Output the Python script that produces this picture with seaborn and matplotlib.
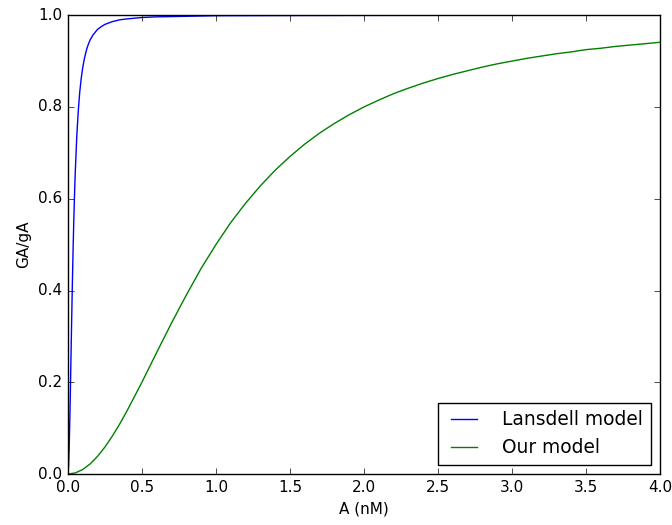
import matplotlib
matplotlib.use("Agg")
import matplotlib.pyplot as plt
import seaborn as sns
import pandas as pd

lansdell_x = [0.0, 0.005, 0.01, 0.015, 0.02, 0.025, 0.03, 0.035, 0.04, 0.045, 0.05, 0.06, 0.07, 0.08,
              0.09, 0.10, 0.11, 0.12, 0.13, 0.14, 0.15, 0.17, 0.2, 0.225, 0.25, 0.3, 0.35, 0.4, 0.5,
              0.6, 0.7, 0.85, 1.0, 1.5, 2.0, 3.0, 4.0]
lansdell_y = [0.0, 0.019, 0.072, 0.148, 0.236, 0.325, 0.41, 0.486, 0.553, 0.610, 0.658, 0.735,
              0.79, 0.832, 0.862, 0.885, 0.903, 0.917, 0.929, 0.938, 0.946, 0.957, 0.969, 0.975,
              0.980, 0.986, 0.990, 0.992, 0.995, 0.9965, 0.997, 0.998, 0.999, 0.9994, 0.9997,
              0.9999, 0.9999]

our_x = [0.0, 0.05, 0.1, 0.15, 0.2, 0.25, 0.3, 0.35, 0.4, 0.5, 0.6, 0.7, 0.8, 0.9, 1.0, 1.1, 1.2,
         1.3, 1.4, 1.5, 1.6, 1.7, 1.8, 1.9, 2.0, 2.1, 2.2, 2.3, 2.4, 2.5, 2.6, 2.7, 2.8, 2.9, 3.0,
         3.1, 3.2, 3.3, 3.4, 3.5, 3.6, 3.7, 3.8, 3.9, 4.0]
our_y = [0.0, 0.0025, 0.0099, 0.022, 0.0385, 0.0588, 0.0826, 0.109, 0.138, 0.20, 0.265, 0.329,
         0.390, 0.448, 0.50, 0.548, 0.590, 0.628, 0.662, 0.692, 0.719, 0.743, 0.764, 0.783, 0.80,
         0.815, 0.829, 0.841, 0.852, 0.862, 0.871, 0.879, 0.887, 0.894, 0.90, 0.906, 0.911, 0.916,
         0.920, 0.925, 0.928, 0.932, 0.935, 0.938, 0.941]

series_names = ["Lansdell model", "Our model"]
x_ticks = [0.0, 0.5, 1.0, 1.5, 2.0, 2.5, 3.0, 3.5, 4.0]
y_ticks = [0.0, 0.2, 0.4, 0.6, 0.8, 1.0]

df = pd.concat([
    pd.DataFrame({"A": lansdell_x, "G": lansdell_y, "model": series_names[0]}),
    pd.DataFrame({"A": our_x, "G": our_y, "model": series_names[1]}),
])

plt.style.use("classic")
fig = plt.figure(figsize=(6.72, 5.25), dpi=100, facecolor="white")
ax = fig.add_axes([0.101, 0.097, 0.881, 0.874])
sns.lineplot(data=df, x="A", y="G", hue="model", palette=["b", "g"], ax=ax,
             linewidth=1.0, sort=True, estimator=None)
ax.set_xlim(0, 4)
ax.set_ylim(0, 1)
ax.set_xticks(x_ticks)
ax.set_yticks(y_ticks)
ax.set_xticklabels([f"{v:.1f}" for v in x_ticks])
ax.set_yticklabels([f"{v:.1f}" for v in y_ticks])
ax.set_xlabel("A (nM)", fontsize=11)
ax.set_ylabel("GA/gA", fontsize=11)
ax.tick_params(labelsize=11)
leg = ax.legend(loc="lower right", fontsize=13.4, frameon=True, fancybox=False,
                handlelength=2.0, handletextpad=1.05, borderaxespad=0.5)
leg.set_title(None)
fig.savefig("out.png", dpi=100, facecolor="white")
